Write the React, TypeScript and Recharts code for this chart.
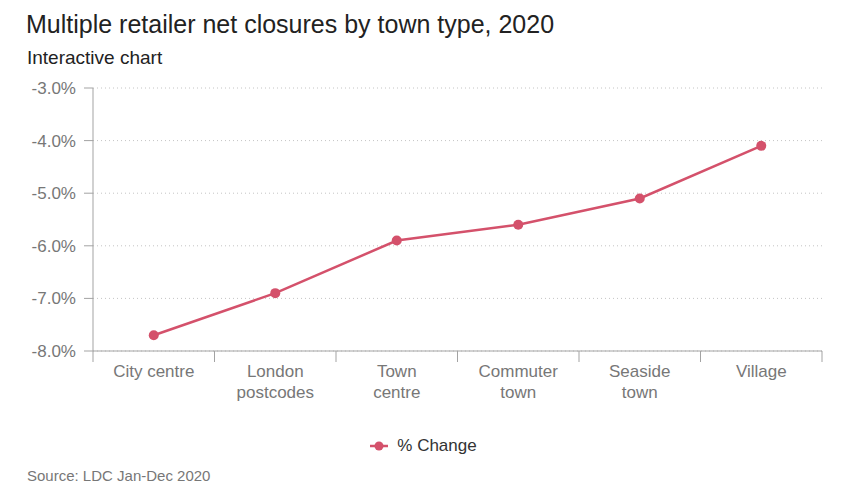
import React from "react";
import {
  LineChart,
  Line,
  XAxis,
  YAxis,
  CartesianGrid,
  Legend,
} from "recharts";

const categories = [
  "City centre",
  "London postcodes",
  "Town centre",
  "Commuter town",
  "Seaside town",
  "Village",
];
const tickLabels = [
  ["City centre"],
  ["London", "postcodes"],
  ["Town", "centre"],
  ["Commuter", "town"],
  ["Seaside", "town"],
  ["Village"],
];
const changeValues = [-7.7, -6.9, -5.9, -5.6, -5.1, -4.1];
const yTicks = [-8, -7, -6, -5, -4, -3];

const chartData = categories.map((name, i) => ({
  name,
  change: changeValues[i],
}));

const W = 857;
const H = 496;
const MARGIN = { top: 88, right: 35, left: 0, bottom: 85 };
const Y_AXIS_WIDTH = 93;
const X_AXIS_HEIGHT = 60;
const bandWidth = (W - MARGIN.right - Y_AXIS_WIDTH) / categories.length;

const LINE_COLOR = "#d4516b";
const AXIS_COLOR = "#a3a3a3";
const TICK_COLOR = "#777";
const FONT = "'Liberation Sans', Arial, Helvetica, sans-serif";

// category label centred in band, tick marks on the band edges
const XTick = ({ x, y, payload, index }: any) => {
  const lines = tickLabels[index] || [payload.value];
  const left = x - bandWidth / 2;
  const right = x + bandWidth / 2;
  return (
    <g>
      <line x1={left} y1={y} x2={left} y2={y + 11} stroke={AXIS_COLOR} />
      {index === categories.length - 1 && (
        <line x1={right} y1={y} x2={right} y2={y + 11} stroke={AXIS_COLOR} />
      )}
      <text x={x} y={y} textAnchor="middle" fill={TICK_COLOR} fontSize={17}>
        {lines.map((l: string, i: number) => (
          <tspan key={i} x={x} y={y + 26 + i * 21}>
            {l}
          </tspan>
        ))}
      </text>
    </g>
  );
};

// legend: line with a filled dot, then the series name
const LegendContent = ({ payload }: any) => (
  <div style={{ textAlign: "center" }}>
    {(payload || []).map((p: any) => (
      <span
        key={p.value}
        style={{
          display: "inline-flex",
          alignItems: "center",
          fontSize: 17,
          marginRight: 10,
        }}
      >
        <svg width={18} height={10} style={{ marginRight: 9 }}>
          <line x1={0} y1={5} x2={18} y2={5} stroke={p.color} strokeWidth={2.5} />
          <circle cx={9} cy={5} r={4.5} fill={p.color} />
        </svg>
        <span style={{ color: "#333" }}>{p.value}</span>
      </span>
    ))}
  </div>
);

export default function App() {
  return (
    <div
      style={{
        position: "absolute",
        left: 0,
        top: 0,
        width: W,
        height: H,
        background: "#fff",
        fontFamily: FONT,
      }}
    >
      <div
        style={{
          position: "absolute",
          left: 26,
          top: 12,
          fontSize: 25,
          lineHeight: "25px",
          color: "#222",
          whiteSpace: "nowrap",
        }}
      >
        Multiple retailer net closures by town type, 2020
      </div>
      <div
        style={{
          position: "absolute",
          left: 27,
          top: 48,
          fontSize: 19,
          lineHeight: "19px",
          color: "#222",
        }}
      >
        Interactive chart
      </div>
      <div style={{ position: "absolute", left: 0, top: 0 }}>
        <LineChart width={W} height={H} data={chartData} margin={MARGIN}>
          <CartesianGrid
            vertical={false}
            stroke="#c4c4c4"
            strokeDasharray="1 3"
          />
          <XAxis
            dataKey="name"
            scale="band"
            height={X_AXIS_HEIGHT}
            interval={0}
            tickLine={false}
            tickSize={0}
            tickMargin={0}
            axisLine={{ stroke: AXIS_COLOR }}
            tick={<XTick />}
          />
          <YAxis
            width={Y_AXIS_WIDTH}
            domain={[-8, -3]}
            ticks={yTicks}
            interval={0}
            tickFormatter={(v: number) => `${v.toFixed(1)}%`}
            tickSize={9}
            tickMargin={8}
            axisLine={{ stroke: AXIS_COLOR }}
            tickLine={{ stroke: AXIS_COLOR }}
            tick={{ fill: TICK_COLOR, fontSize: 17 }}
          />
          <Legend
            verticalAlign="middle"
            align="center"
            wrapperStyle={{ top: 436, left: 0, width: W }}
            content={<LegendContent />}
          />
          <Line
            type="linear"
            dataKey="change"
            name="% Change"
            stroke={LINE_COLOR}
            strokeWidth={2.5}
            dot={{ r: 5, fill: LINE_COLOR, stroke: "none" }}
            activeDot={false}
            isAnimationActive={false}
          />
        </LineChart>
      </div>
      <div
        style={{
          position: "absolute",
          left: 27,
          top: 468,
          fontSize: 15,
          lineHeight: "15px",
          color: "#777",
        }}
      >
        Source: LDC Jan-Dec 2020
      </div>
    </div>
  );
}
